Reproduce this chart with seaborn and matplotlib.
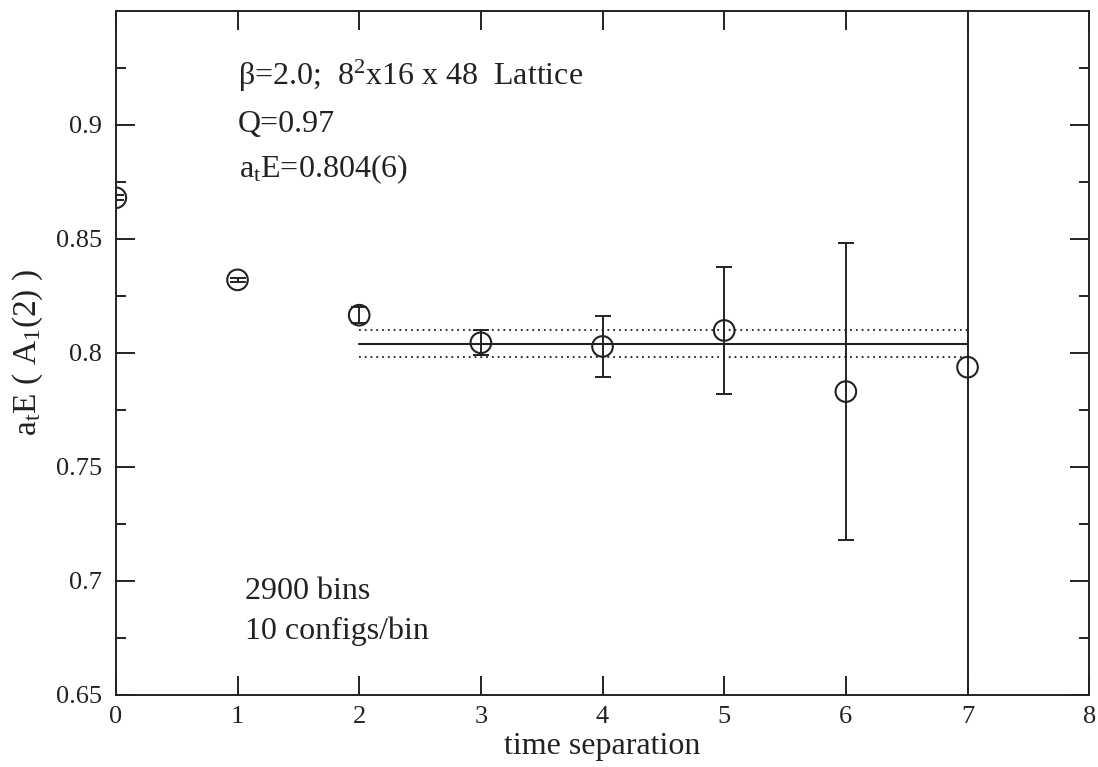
import numpy as np
import pandas as pd
import matplotlib
matplotlib.use("Agg")
import matplotlib.pyplot as plt
import seaborn as sns

t = [0, 1, 2, 3, 4, 5, 6, 7]
energy = [0.868, 0.832, 0.8165, 0.8044, 0.8028, 0.8098, 0.783, 0.7937]
err = [0.001, 0.001, 0.0035, 0.0055, 0.0133, 0.028, 0.065, 0.30]
fit_range = [2, 7]
fit_value = 0.804
fit_err = 0.006

sns.set_style("ticks")
plt.rcParams["font.family"] = ["Liberation Serif", "DejaVu Serif"]
plt.rcParams["mathtext.fontset"] = "custom"
plt.rcParams["mathtext.rm"] = "Liberation Serif"
plt.rcParams["mathtext.it"] = "Liberation Serif"

ink = "#222222"
fig = plt.figure(figsize=(10.98, 7.67), dpi=100)
ax = fig.add_axes([0.1055, 0.094, 0.8865, 0.892])

df = pd.DataFrame({"t": t, "E": energy, "err": err})
ax.errorbar(df["t"], df["E"], yerr=df["err"], fmt="none", ecolor=ink,
            elinewidth=1.4, capsize=5.5, capthick=1.4, zorder=2)
sns.scatterplot(data=df, x="t", y="E", ax=ax, marker="o", s=220,
                facecolor="none", edgecolor=ink, linewidth=1.5, zorder=3)

ax.plot(fit_range, [fit_value, fit_value], color=ink, lw=1.5)
ax.plot(fit_range, [fit_value + fit_err] * 2, color=ink, lw=1.3, ls=(0, (1, 2.2)))
ax.plot(fit_range, [fit_value - fit_err] * 2, color=ink, lw=1.3, ls=(0, (1, 2.2)))

ax.set_xlim(0, 8)
ax.set_ylim(0.65, 0.95)
ax.set_xticks(range(0, 9))
ax.set_yticks([0.65, 0.7, 0.75, 0.8, 0.85, 0.9])
ax.set_yticklabels(["0.65", "0.7", "0.75", "0.8", "0.85", "0.9"])
ax.set_yticks(np.arange(0.675, 0.95, 0.05), minor=True)
ax.tick_params(axis="both", which="major", direction="in", length=14, width=1.4,
               labelsize=19, right=True, top=True, color=ink, labelcolor=ink)
ax.tick_params(axis="y", which="major", pad=10)
ax.tick_params(axis="x", which="major", pad=8)
ax.tick_params(axis="y", which="minor", direction="in", length=7, width=1.4,
               right=True, left=True, color=ink)
for s in ax.spines.values():
    s.set_linewidth(1.4)
    s.set_color(ink)

ax.set_xlabel("time separation", fontsize=23, color=ink, labelpad=3)
ax.set_ylabel(r"$\mathregular{a_tE\ (\ A_1(2)\ )}$", fontsize=24, color=ink, labelpad=8)

kw = dict(fontsize=23, color=ink, va="baseline")
ax.text(1.005, 0.9175, r"β=2.0;  $\mathregular{8^2}$x16 x 48  Lattice", **kw)
ax.text(1.0, 0.897, "Q=0.97", **kw)
ax.text(1.01, 0.877, r"$\mathregular{a_tE}$=0.804(6)", **kw)
ax.text(1.06, 0.692, "2900 bins", **kw)
ax.text(1.06, 0.6746, "10 configs/bin", **kw)

fig.savefig("out.png", dpi=100)
